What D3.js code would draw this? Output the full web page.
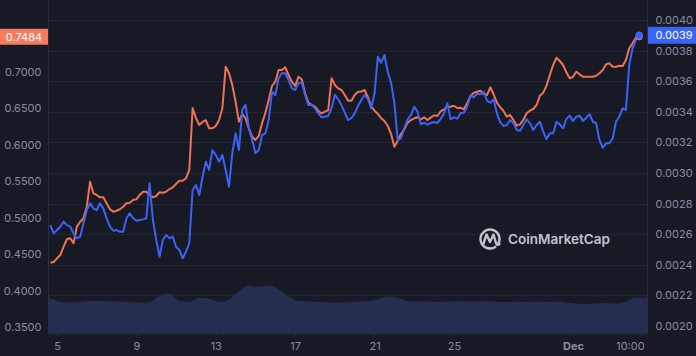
<!DOCTYPE html>
<html>
<head>
<meta charset="utf-8">
<script src="https://cdn.jsdelivr.net/npm/d3@7"></script>
<style>
  html, body { margin: 0; padding: 0; background: #171924; }
  svg { display: block; }
  text { font-family: Inter, "Noto Sans", sans-serif; }
</style>
</head>
<body>
<svg id="chart" width="696" height="356"></svg>
<script>
// ---------- DATA ----------
// 4-hourly series starting Nov 4 16:00 (UTC)
const seriesStart = Date.UTC(2024, 10, 4, 16);
const seriesStepHours = 4;

// Price in USD (left axis, orange)
const priceUsd = [
  0.4383, 0.4392, 0.4443, 0.4488, 0.4602, 0.4704, 0.4718, 0.4649, 0.4877, 0.4945,
  0.4992, 0.5151, 0.5494, 0.5335, 0.5312, 0.5280, 0.5280, 0.5198, 0.5116, 0.5083,
  0.5096, 0.5116, 0.5151, 0.5198, 0.5206, 0.5243, 0.5253, 0.5312, 0.5357, 0.5357,
  0.5312, 0.5280, 0.5298, 0.5349, 0.5343, 0.5357, 0.5394, 0.5418, 0.5463, 0.5508,
  0.5508, 0.5541, 0.5655, 0.6506, 0.6369, 0.6273, 0.6314, 0.6341, 0.6227, 0.6227,
  0.6259, 0.6341, 0.6502, 0.7073, 0.6982, 0.6822, 0.6592, 0.6318, 0.6424, 0.6365,
  0.6227, 0.6112, 0.6067, 0.6122, 0.6296, 0.6441, 0.6616, 0.6808, 0.6867, 0.7027,
  0.7027, 0.7065, 0.6959, 0.6867, 0.6808, 0.6935, 0.6900, 0.6708, 0.6579, 0.6547,
  0.6524, 0.6465, 0.6433, 0.6455, 0.6478, 0.6914, 0.6822, 0.6776, 0.6753, 0.6684,
  0.6606, 0.6606, 0.6684, 0.6730, 0.6730, 0.6753, 0.6653, 0.6524, 0.6469, 0.6424,
  0.6365, 0.6327, 0.6259, 0.6149, 0.5975, 0.6057, 0.6149, 0.6214, 0.6304, 0.6341,
  0.6365, 0.6378, 0.6351, 0.6378, 0.6341, 0.6373, 0.6406, 0.6396, 0.6461, 0.6488,
  0.6524, 0.6524, 0.6537, 0.6506, 0.6510, 0.6488, 0.6570, 0.6671, 0.6716, 0.6730,
  0.6743, 0.6698, 0.6684, 0.6790, 0.6694, 0.6579, 0.6516, 0.6465, 0.6386, 0.6410,
  0.6341, 0.6263, 0.6282, 0.6345, 0.6433, 0.6469, 0.6492, 0.6547, 0.6675, 0.6716,
  0.6812, 0.6959, 0.7096, 0.7196, 0.7151, 0.7096, 0.6996, 0.6914, 0.6935, 0.7004,
  0.6968, 0.6935, 0.6935, 0.6935, 0.6935, 0.6949, 0.6982, 0.7027, 0.7106, 0.7119,
  0.7073, 0.7073, 0.7086, 0.7082, 0.7165, 0.7325, 0.7394, 0.7471, 0.7484
];

// Price in BTC (right axis, blue)
const priceBtc = [
  0.002660, 0.002606, 0.002627, 0.002649, 0.002682, 0.002660, 0.002649, 0.002606, 0.002573, 0.002584,
  0.002671, 0.002758, 0.002802, 0.002769, 0.002758, 0.002802, 0.002769, 0.002704, 0.002649, 0.002623,
  0.002627, 0.002616, 0.002616, 0.002704, 0.002737, 0.002704, 0.002688, 0.002693, 0.002697, 0.002704,
  0.002933, 0.002693, 0.002562, 0.002453, 0.002562, 0.002595, 0.002573, 0.002584, 0.002518, 0.002497,
  0.002442, 0.002486, 0.002541, 0.002889, 0.002922, 0.002856, 0.002974, 0.003074, 0.003020, 0.003150,
  0.003118, 0.003074, 0.003118, 0.003020, 0.002910, 0.003129, 0.003259, 0.003150, 0.003412, 0.003445,
  0.003292, 0.003216, 0.003129, 0.003150, 0.003248, 0.003259, 0.003346, 0.003531, 0.003510, 0.003619,
  0.003652, 0.003652, 0.003608, 0.003554, 0.003542, 0.003590, 0.003590, 0.003510, 0.003444, 0.003444,
  0.003423, 0.003390, 0.003364, 0.003368, 0.003373, 0.003423, 0.003510, 0.003482, 0.003444, 0.003394,
  0.003346, 0.003358, 0.003390, 0.003438, 0.003477, 0.003510, 0.003482, 0.003423, 0.003521, 0.003760,
  0.003721, 0.003771, 0.003662, 0.003590, 0.003456, 0.003216, 0.003227, 0.003292, 0.003351, 0.003379,
  0.003433, 0.003401, 0.003318, 0.003329, 0.003316, 0.003327, 0.003333, 0.003327, 0.003353, 0.003390,
  0.003456, 0.003351, 0.003364, 0.003355, 0.003390, 0.003394, 0.003433, 0.003505, 0.003495, 0.003518,
  0.003514, 0.003531, 0.003473, 0.003459, 0.003482, 0.003390, 0.003331, 0.003307, 0.003314, 0.003346,
  0.003325, 0.003281, 0.003276, 0.003314, 0.003351, 0.003325, 0.003281, 0.003314, 0.003335, 0.003270,
  0.003222, 0.003259, 0.003259, 0.003335, 0.003318, 0.003292, 0.003353, 0.003375, 0.003340, 0.003368,
  0.003375, 0.003340, 0.003361, 0.003384, 0.003335, 0.003325, 0.003216, 0.003165, 0.003194, 0.003194,
  0.003227, 0.003335, 0.003368, 0.003423, 0.003412, 0.003706, 0.003815, 0.003869, 0.003900
];

// Volume (relative units), 12-hourly from the same start
const volumeStepHours = 12;
const volume = [
  35, 31.5, 31, 31.5, 32.5, 32.5, 32.3, 32, 31.5, 30.7,
  31.3, 38, 40, 33, 31.5, 35.5, 35, 31.5, 34, 42,
  48, 46.5, 48, 44, 37, 32.5, 32.3, 31.5, 31.3, 30.7,
  31.5, 32, 32.5, 34, 37, 36, 32.5, 32, 32, 31.5,
  32, 32.5, 32, 32, 32.5, 31.5, 31.5, 32, 31.5, 32,
  31.5, 32, 31, 30, 29.5, 30, 30.5, 30, 32, 36
];

// Axis ticks
const xTickDates = [
  Date.UTC(2024, 10, 5), Date.UTC(2024, 10, 9), Date.UTC(2024, 10, 13), Date.UTC(2024, 10, 17),
  Date.UTC(2024, 10, 21), Date.UTC(2024, 10, 25), Date.UTC(2024, 11, 1), Date.UTC(2024, 11, 4, 10)
];
const xTickLabels = ["5", "9", "13", "17", "21", "25", "Dec", "10:00"];
const leftTicks = [0.35, 0.40, 0.45, 0.50, 0.55, 0.60, 0.65, 0.70];
const rightTicks = [0.0020, 0.0022, 0.0024, 0.0026, 0.0028, 0.0030, 0.0032, 0.0034, 0.0036, 0.0038, 0.0040];
const watermark = "CoinMarketCap";

// ---------- CHART ----------
const svg = d3.select("#chart");
const W = 696, H = 356;
const plotL = 48.5, plotR = 647.5, plotB = 333.5, plotT = 0;

const C = {
  bg: "#171924", grid: "#232634", axisLine: "#2b2f3d", text: "#878ea3",
  orange: "#ef7255", orangeBox: "#f47c5f", blue: "#3b63f6", volume: "#252e51"
};

svg.append("rect").attr("width", W).attr("height", H).attr("fill", C.bg);

const x = d3.scaleUtc()
  .domain([new Date(Date.UTC(2024, 10, 5)), new Date(Date.UTC(2024, 11, 1))])
  .range([57, 573]);
const yL = d3.scaleLinear().domain([0.35, 0.70]).range([327, 72]);
const yR = d3.scaleLinear().domain([0.0020, 0.0040]).range([326, 20]);
const yV = d3.scaleLinear().domain([0, 100]).range([plotB, plotB - 100]);

const tOf = (i, step) => new Date(seriesStart + i * step * 3600e3);
const orangeData = priceUsd.map((v, i) => ({ t: tOf(i, seriesStepHours), v }));
const blueData = priceBtc.map((v, i) => ({ t: tOf(i, seriesStepHours), v }));
const volData = volume.map((v, i) => ({ t: tOf(i, volumeStepHours), v }));

// clip
svg.append("defs").append("clipPath").attr("id", "plot")
  .append("rect").attr("x", plotL).attr("y", plotT).attr("width", plotR - plotL + 2).attr("height", plotB - plotT);

// horizontal grid (right-axis ticks)
svg.append("g").selectAll("line").data(rightTicks).join("line")
  .attr("x1", plotL).attr("x2", plotR)
  .attr("y1", d => Math.round(yR(d)) + 0.5).attr("y2", d => Math.round(yR(d)) + 0.5)
  .attr("stroke", C.grid).attr("stroke-width", 1);

// volume area (extended flat to both plot edges)
const g = svg.append("g").attr("clip-path", "url(#plot)");
const firstVol = volData[0], lastVol = volData[volData.length - 1];
const volX = d => d.edge !== undefined ? d.edge : x(d.t);
const volExt = [{ edge: plotL, v: firstVol.v }, ...volData, { edge: plotR, v: lastVol.v }];
g.append("path").datum(volExt)
  .attr("fill", C.volume)
  .attr("d", d3.area().x(volX).y0(plotB).y1(d => yV(d.v)).curve(d3.curveMonotoneX));

// lines
g.append("path").datum(orangeData)
  .attr("fill", "none").attr("stroke", C.orange).attr("stroke-width", 2)
  .attr("stroke-linejoin", "round")
  .attr("d", d3.line().x(d => x(d.t)).y(d => yL(d.v)));
g.append("path").datum(blueData)
  .attr("fill", "none").attr("stroke", C.blue).attr("stroke-width", 2)
  .attr("stroke-linejoin", "round")
  .attr("d", d3.line().x(d => x(d.t)).y(d => yR(d.v)));

// end dots
const lo = orangeData[orangeData.length - 1], lb = blueData[blueData.length - 1];
svg.append("circle").attr("cx", x(lo.t)).attr("cy", yL(lo.v)).attr("r", 3.5).attr("fill", C.orange);
svg.append("circle").attr("cx", x(lb.t)).attr("cy", yR(lb.v)).attr("r", 3.8).attr("fill", C.blue);

// borders
svg.append("line").attr("x1", plotL).attr("x2", plotL).attr("y1", 0).attr("y2", plotB).attr("stroke", C.axisLine);
svg.append("line").attr("x1", plotR).attr("x2", plotR).attr("y1", 0).attr("y2", plotB).attr("stroke", C.axisLine);

// bottom axis
const xAxis = d3.axisBottom(x)
  .tickValues(xTickDates.map(d => new Date(d)))
  .tickFormat((d, i) => xTickLabels[i])
  .tickSize(3).tickPadding(6);
const gx = svg.append("g").attr("transform", `translate(0,${plotB})`).call(xAxis);
gx.select(".domain").attr("d", `M${plotL},0.5H${plotR}`).attr("stroke", C.axisLine);
gx.selectAll(".tick line").attr("stroke", C.axisLine);
gx.selectAll(".tick text").attr("fill", C.text).attr("font-size", 11)
  .attr("font-weight", (d, i) => xTickLabels[i] === "Dec" ? 700 : 400)
  .attr("text-anchor", (d, i) => i === xTickLabels.length - 1 ? "end" : "middle")
  .attr("dx", (d, i) => i === xTickLabels.length - 1 ? "0.3em" : 0);

// left axis
const gl = svg.append("g").attr("transform", `translate(${plotL},0)`)
  .call(d3.axisLeft(yL).tickValues(leftTicks).tickFormat(d3.format(".4f")).tickSize(0).tickPadding(7));
gl.select(".domain").remove();
gl.selectAll(".tick text").attr("fill", C.text).attr("font-size", 11);

// right axis
const gr = svg.append("g").attr("transform", `translate(${plotR},0)`)
  .call(d3.axisRight(yR).tickValues(rightTicks).tickFormat(d3.format(".4f")).tickSize(0).tickPadding(8));
gr.select(".domain").remove();
gr.selectAll(".tick text").attr("fill", C.text).attr("font-size", 11);

// last-value badges
const oy = yL(lo.v);
svg.append("rect").attr("x", 0).attr("y", oy - 8).attr("width", plotL - 0.5).attr("height", 16).attr("fill", C.orangeBox);
svg.append("text").attr("x", 24).attr("y", oy).attr("dy", "0.35em").attr("text-anchor", "middle")
  .attr("fill", "#ffffff").attr("font-size", 11).text(d3.format(".4f")(lo.v));
const by = yR(lb.v);
svg.append("rect").attr("x", plotR + 0.5).attr("y", by - 8.5).attr("width", W - plotR).attr("height", 17).attr("fill", C.blue);
svg.append("text").attr("x", plotR + 8).attr("y", by).attr("dy", "0.35em")
  .attr("fill", "#ffffff").attr("font-size", 11).text(d3.format(".4f")(lb.v));

// watermark
const wm = svg.append("g").attr("opacity", 0.85);
wm.append("path")
  .attr("d", d3.arc()({ innerRadius: 9.5, outerRadius: 9.5, startAngle: Math.PI * 0.78, endAngle: Math.PI * 2.72 }))
  .attr("transform", "translate(490,239)")
  .attr("fill", "none").attr("stroke", "#dfe2ea").attr("stroke-width", 2.4).attr("stroke-linecap", "round");
wm.append("path")
  .attr("d", "M483,245 L486.5,234.5 L490,242 L493.5,234.5 L496,243 Q497,246 499.5,244")
  .attr("fill", "none").attr("stroke", "#dfe2ea").attr("stroke-width", 2.4)
  .attr("stroke-linejoin", "round").attr("stroke-linecap", "round");
wm.append("text").attr("x", 508).attr("y", 239).attr("dy", "0.36em")
  .attr("fill", "#dfe2ea").attr("font-size", 13.5).attr("font-weight", 600).text(watermark);
</script>
</body>
</html>
